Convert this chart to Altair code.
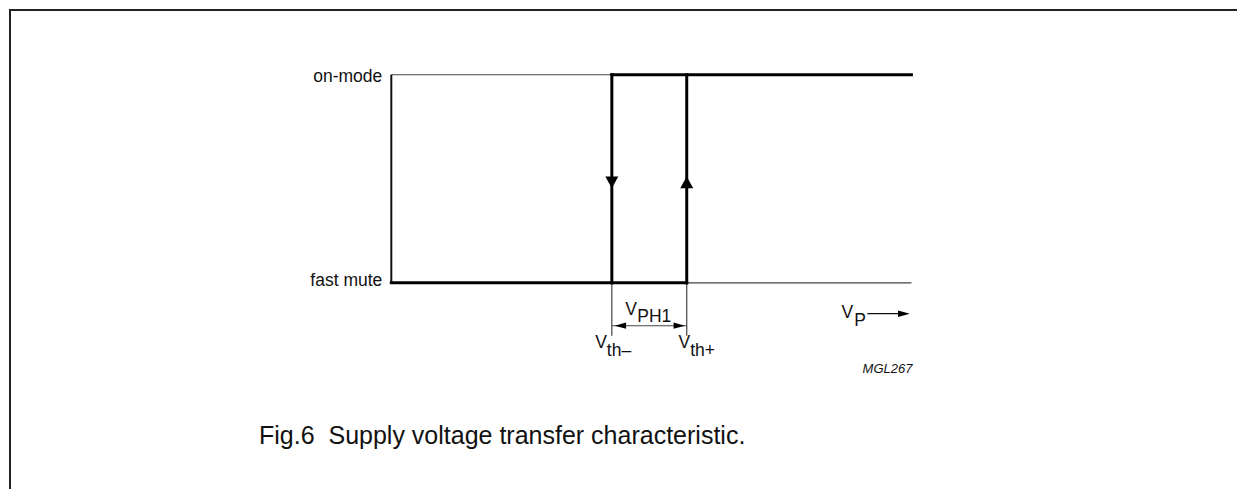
import altair as alt
import pandas as pd

# ---------------- data ----------------
mode_names = ["fast mute", "on-mode"]
mode_levels = [0, 1]
vp_range = [0, 100]          # supply-voltage axis (arbitrary units)
vth_minus = 42.4             # switch-off threshold
vth_plus = 56.8              # switch-on threshold
caption_text = "Fig.6\u00a0\u00a0Supply voltage transfer characteristic."
figure_code = "MGL267"

# ---------------- layout constants ----------------
W, H = 1229, 481
X_DOMAIN = [-73.5, 162.4]
Y_DOMAIN = [-0.9856, 1.3158]
ARROW_LEVEL = 0.483
DIM_LEVEL = -0.206
EXT_LEVEL = -0.254
VP_LEVEL = -0.148
VP_ARROW_START = 91.5
FONT = "Liberation Sans, Arial, Helvetica, sans-serif"
FS = 17.5

xs = alt.Scale(domain=X_DOMAIN, nice=False, zero=False)
ys = alt.Scale(domain=Y_DOMAIN, nice=False, zero=False)


def seg_chart(rows, **mark):
    df = pd.DataFrame(rows, columns=["x", "x2", "y", "y2"])
    return alt.Chart(df).mark_rule(**mark).encode(
        x=alt.X("x:Q", scale=xs, axis=None),
        x2="x2:Q",
        y=alt.Y("y:Q", scale=ys, axis=None),
        y2="y2:Q",
    )


def pt_chart(x, y, **mark):
    df = pd.DataFrame({"x": [x], "y": [y]})
    return alt.Chart(df).mark_point(**mark).encode(
        x=alt.X("x:Q", scale=xs, axis=None),
        y=alt.Y("y:Q", scale=ys, axis=None),
    )


def txt_chart(text, x, y, **mark):
    df = pd.DataFrame({"x": [x], "y": [y], "t": [text]})
    base = dict(font=FONT, fontSize=FS, color="#111", baseline="alphabetic")
    base.update(mark)
    return alt.Chart(df).mark_text(**base).encode(
        x=alt.X("x:Q", scale=xs, axis=None),
        y=alt.Y("y:Q", scale=ys, axis=None),
        text="t:N",
    )


fm, on = mode_levels

# thin guide lines: mode levels, extension lines, dimension line
thin = seg_chart(
    [
        (vp_range[0], vp_range[1], fm, fm),
        (vp_range[0], vp_range[1], on, on),
        (vth_minus, vth_minus, fm, EXT_LEVEL),
        (vth_plus, vth_plus, fm, EXT_LEVEL),
        (vth_minus, vth_plus, DIM_LEVEL, DIM_LEVEL),
    ],
    color="#444", strokeWidth=1.2,
)

# vertical axis
axis_line = seg_chart([(vp_range[0], vp_range[0], fm, on)], color="#111", strokeWidth=2)

# thick hysteresis path
thick = seg_chart(
    [
        (vp_range[0], vth_plus, fm, fm),
        (vth_minus, vp_range[1], on, on),
        (vth_minus, vth_minus, fm, on),
        (vth_plus, vth_plus, fm, on),
    ],
    color="#000", strokeWidth=3, strokeCap="square",
)

# VP arrow shaft
vp_shaft = seg_chart([(VP_ARROW_START, vp_range[1], VP_LEVEL, VP_LEVEL)],
                     color="#111", strokeWidth=1.3, x2Offset=-6)

HEAD = dict(filled=True, color="#000", opacity=1, strokeWidth=0)
DOWN = "M0,1L-1.1,-1L1.1,-1Z"
UP = "M0,-1L-1.1,1L1.1,1Z"
RIGHT = "M1,0L-1,-0.55L-1,0.55Z"
LEFT = "M-1,0L1,-0.55L1,0.55Z"

heads = [
    pt_chart(vth_minus, ARROW_LEVEL, shape=DOWN, size=140, **HEAD),
    pt_chart(vth_plus, ARROW_LEVEL, shape=UP, size=140, **HEAD),
    pt_chart(vth_minus, DIM_LEVEL, shape=LEFT, size=130, xOffset=8.5, **HEAD),
    pt_chart(vth_plus, DIM_LEVEL, shape=RIGHT, size=130, xOffset=-7.5, **HEAD),
    pt_chart(vp_range[1], VP_LEVEL, shape=RIGHT, size=140, xOffset=-7.5, **HEAD),
]

mid = (vth_minus + vth_plus) / 2
texts = [
    txt_chart(mode_names[1], vp_range[0], on, align="right", dx=-9, dy=7),
    txt_chart(mode_names[0], vp_range[0], fm, align="right", dx=-9, dy=3),
    txt_chart("V", mid, DIM_LEVEL, align="right", dx=-12.3, dy=-11),
    txt_chart("PH1", mid, DIM_LEVEL, align="left", dx=-12, dy=-4),
    txt_chart("V", vth_minus, fm, align="right", dx=-5, dy=65),
    txt_chart("th\u2013", vth_minus, fm, align="left", dx=-5, dy=73),
    txt_chart("V", vth_plus, fm, align="right", dx=3.5, dy=65),
    txt_chart("th+", vth_plus, fm, align="left", dx=3.5, dy=73),
    txt_chart("V", VP_ARROW_START, VP_LEVEL, align="right", dx=-14, dy=4),
    txt_chart("P", VP_ARROW_START, VP_LEVEL, align="left", dx=-13, dy=12),
    txt_chart(figure_code, vp_range[1], fm, align="right", dx=1, dy=90,
              fontSize=13, fontStyle="italic"),
]

caption = alt.Chart(pd.DataFrame({"t": [caption_text]})).mark_text(
    font=FONT, fontSize=25, color="#111", align="left", baseline="middle"
).encode(x=alt.value(250), y=alt.value(427), text="t:N")

frame = alt.Chart(pd.DataFrame({"k": [0]})).mark_rule(color="#222", strokeWidth=2)
frame_top = frame.encode(x=alt.value(0), x2=alt.value(W), y=alt.value(1))
frame_left = frame.encode(x=alt.value(1), y=alt.value(0), y2=alt.value(H))

chart = alt.layer(
    frame_top, frame_left, thin, axis_line, thick, vp_shaft, *heads, *texts, caption
).properties(
    width=W, height=H,
    autosize=alt.AutoSizeParams(type="fit", contains="padding"),
    padding=0,
).configure_view(stroke=None)

chart.save("out.html", embed_options={"renderer": "svg", "actions": False})
